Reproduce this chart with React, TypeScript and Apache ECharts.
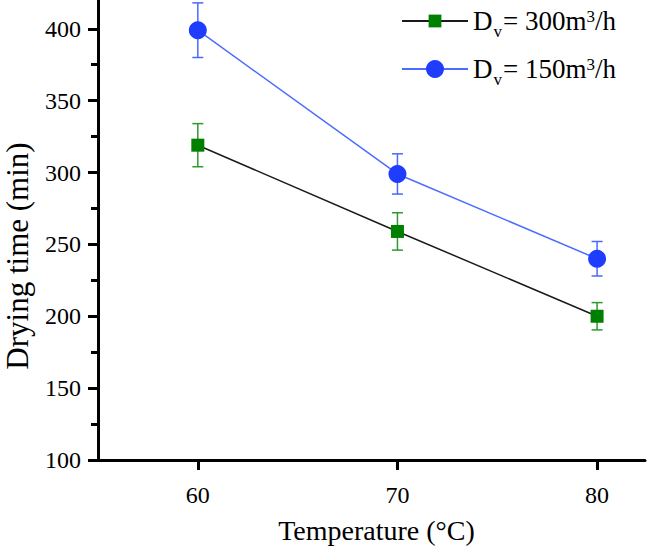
import React, { useEffect, useRef } from 'react';
import * as echarts from 'echarts';

const temps = [60, 70, 80];
const time300 = [319, 259, 200];
const err300 = [15, 13, 9.5];
const time150 = [399, 299, 240];
const err150 = [19, 14, 12];

const yMajor = [100, 150, 200, 250, 300, 350, 400];
const yMinor = [125, 175, 225, 275, 325, 375];
const xMajor = [60, 70, 80];
const xMinor = [55, 65, 75];

const name300 = 'Dv = 300m3/h';
const name150 = 'Dv = 150m3/h';
const legendLabels: Record<string, string> = {
  [name300]: '{a|D}{b|v}{a|= 300m}{c|3}{a|/h}',
  [name150]: '{a|D}{b|v}{a|= 150m}{c|3}{a|/h}',
};

const FONT = 'Liberation Serif, Times New Roman, serif';

const errorSeries = (vals: number[], errs: number[], color: string) => ({
  type: 'custom',
  silent: true,
  data: temps.map((t, i) => [t, vals[i] - errs[i], vals[i] + errs[i]]),
  renderItem: (_params: any, api: any) => {
    const x = api.value(0);
    const top = api.coord([x, api.value(2)]);
    const bot = api.coord([x, api.value(1)]);
    const cap = 5.5;
    const style = { stroke: color, lineWidth: 1.5 };
    return {
      type: 'group',
      children: [
        { type: 'line', shape: { x1: top[0], y1: top[1], x2: bot[0], y2: bot[1] }, style },
        { type: 'line', shape: { x1: top[0] - cap, y1: top[1], x2: top[0] + cap, y2: top[1] }, style },
        { type: 'line', shape: { x1: bot[0] - cap, y1: bot[1], x2: bot[0] + cap, y2: bot[1] }, style },
      ],
    };
  },
});

const legendText = {
  color: '#000',
  fontFamily: FONT,
  rich: {
    a: { fontSize: 27, fontFamily: FONT, color: '#000', lineHeight: 27 },
    b: { fontSize: 17, fontFamily: FONT, color: '#000', lineHeight: 17, padding: [21, 1, 0, 1] },
    c: { fontSize: 17, fontFamily: FONT, color: '#000', lineHeight: 17, padding: [0, 0, 10, 0] },
  },
};

const App: React.FC = () => {
  const chartRef = useRef<HTMLDivElement>(null);

  useEffect(() => {
    if (!chartRef.current) return;
    const chart = echarts.init(chartRef.current, undefined, { renderer: 'svg' });

    const axisBase = {
      type: 'value',
      splitLine: { show: false },
    };

    const option = {
      animation: false,
      backgroundColor: '#fff',
      textStyle: { fontFamily: FONT, color: '#000' },
      grid: { left: 98, right: 3, top: 0, bottom: 91 },
      legend: [
        {
          data: [name300],
          left: 401,
          top: 2,
          padding: 0,
          itemWidth: 66,
          itemHeight: 16,
          formatter: (n: string) => legendLabels[n],
          textStyle: legendText,
        },
        {
          data: [name150],
          left: 401,
          top: 50,
          padding: 0,
          itemWidth: 66,
          itemHeight: 22.5,
          formatter: (n: string) => legendLabels[n],
          textStyle: legendText,
        },
      ],
      xAxis: [
        {
          ...axisBase,
          min: 55,
          max: 82.4,
          name: 'Temperature (°C)',
          nameLocation: 'middle',
          nameGap: 56,
          nameTextStyle: { fontFamily: FONT, fontSize: 28, color: '#000', padding: [0, 0, 0, 10] },
          axisLine: { lineStyle: { color: '#000', width: 3 } },
          axisTick: { customValues: xMajor, length: 10, lineStyle: { color: '#000', width: 3 } },
          axisLabel: {
            customValues: xMajor,
            margin: 23,
            fontFamily: FONT,
            fontSize: 24,
            color: '#000',
          },
        },
        {
          ...axisBase,
          min: 55,
          max: 82.4,
          axisLine: { show: false },
          axisTick: { customValues: xMinor, length: 7, lineStyle: { color: '#000', width: 3 } },
          axisLabel: { show: false },
        },
      ],
      yAxis: [
        {
          ...axisBase,
          min: 100,
          max: 420,
          axisLine: { show: true, lineStyle: { color: '#000', width: 3 } },
          axisTick: { show: true, customValues: yMajor, length: 10, lineStyle: { color: '#000', width: 3 } },
          axisLabel: {
            customValues: yMajor,
            margin: 17,
            fontFamily: FONT,
            fontSize: 24,
            color: '#000',
          },
        },
        {
          ...axisBase,
          min: 100,
          max: 420,
          position: 'left',
          axisLine: { show: false },
          axisTick: { show: true, customValues: yMinor, length: 7, lineStyle: { color: '#000', width: 3 } },
          axisLabel: { show: false },
        },
      ],
      graphic: [
        {
          type: 'text',
          x: 17,
          y: 256,
          rotation: Math.PI / 2,
          style: {
            text: 'Drying time (min)',
            fontFamily: FONT,
            fontSize: 31,
            fill: '#000',
            textAlign: 'center',
            textVerticalAlign: 'middle',
          },
        },
      ],
      series: [
        errorSeries(time300, err300, '#2e9a2e'),
        errorSeries(time150, err150, '#4a68ff'),
        {
          name: name300,
          type: 'line',
          data: temps.map((t, i) => [t, time300[i]]),
          symbol: 'rect',
          symbolSize: 13,
          lineStyle: { color: '#1a1a1a', width: 1.5 },
          itemStyle: { color: '#008000' },
        },
        {
          name: name150,
          type: 'line',
          data: temps.map((t, i) => [t, time150[i]]),
          symbol: 'circle',
          symbolSize: 18,
          lineStyle: { color: '#4a6cff', width: 1.5 },
          itemStyle: { color: '#1f3dff' },
        },
      ],
    };

    chart.setOption(option as any);
    return () => {
      chart.dispose();
    };
  }, []);

  return (
    <div
      ref={chartRef}
      style={{ position: 'fixed', left: 0, top: 0, width: 648, height: 551, background: '#fff' }}
    />
  );
};

export default App;
